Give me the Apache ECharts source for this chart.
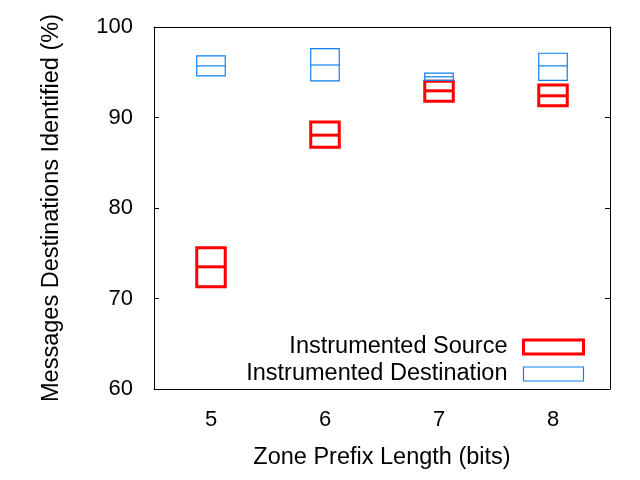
<!DOCTYPE html>
<html>
<head>
<meta charset="utf-8">
<script src="https://cdn.jsdelivr.net/npm/echarts@6/dist/echarts.min.js"></script>
<style>
  html, body { margin: 0; padding: 0; background: #fff; }
  #chart { width: 640px; height: 480px; }
</style>
</head>
<body>
<div id="chart"></div>
<script>
// zone prefix lengths (bits)
const categories = ['5', '6', '7', '8'];

// boxes as [low, median, high]
const sourceBoxes = [
  [71.3, 73.5, 75.6],
  [86.7, 88.05, 89.5],
  [91.8, 92.95, 94.0],
  [91.3, 92.4, 93.6]
];
const destBoxes = [
  [94.6, 95.7, 96.8],
  [94.05, 95.8, 97.6],
  [94.1, 94.5, 94.9],
  [94.1, 95.7, 97.1]
];

const yTicks = { min: 60, max: 100, interval: 10 };

const RED = '#ff0000';
const BLUE = '#0a80f0';
const FONT = 'Liberation Sans, Arial, sans-serif';

const chart = echarts.init(document.getElementById('chart'));

function boxRenderer(color, lineWidth) {
  return function (params, api) {
    const x = api.value(0);
    const lo = api.coord([x, api.value(1)]);
    const med = api.coord([x, api.value(2)]);
    const hi = api.coord([x, api.value(3)]);
    const w = api.size([1, 0])[0] * 0.25;
    const style = { stroke: color, lineWidth: lineWidth, fill: null };
    return {
      type: 'group',
      children: [
        {
          type: 'rect',
          shape: { x: lo[0] - w / 2, y: hi[1], width: w, height: lo[1] - hi[1] },
          style: style
        },
        {
          type: 'line',
          shape: { x1: med[0] - w / 2, y1: med[1], x2: med[0] + w / 2, y2: med[1] },
          style: style
        }
      ]
    };
  };
}

const axisLine = { show: true, lineStyle: { color: '#000', width: 1 } };

const option = {
  animation: false,
  textStyle: { fontFamily: FONT },
  grid: { left: 154, right: 30, top: 27, bottom: 91 },
  legend: {
    orient: 'vertical',
    right: 50,
    top: 330,
    align: 'right',
    itemWidth: 60,
    itemHeight: 14,
    itemGap: 3,
    textStyle: { fontSize: 23.5, lineHeight: 18, color: '#000', fontFamily: FONT, padding: [0, 11, 0, 0] },
    data: [
      { name: 'Instrumented Source', icon: 'rect',
        itemStyle: { color: 'transparent', borderColor: RED, borderWidth: 3 } },
      { name: 'Instrumented Destination', icon: 'rect',
        itemStyle: { color: 'transparent', borderColor: BLUE, borderWidth: 1.2 } }
    ]
  },
  xAxis: [
    {
      type: 'category',
      data: categories,
      boundaryGap: true,
      name: 'Zone Prefix Length (bits)',
      nameLocation: 'middle',
      nameGap: 57,
      nameTextStyle: { fontSize: 23.5, color: '#000' },
      axisLine: axisLine,
      axisTick: { inside: true, length: 5, alignWithLabel: true, lineStyle: { color: '#000' } },
      axisLabel: { fontSize: 22, color: '#000', margin: 20 },
      splitLine: { show: false }
    },
    {
      type: 'category',
      data: categories,
      position: 'top',
      boundaryGap: true,
      axisLine: axisLine,
      axisTick: { inside: true, length: 5, alignWithLabel: true, lineStyle: { color: '#000' } },
      axisLabel: { show: false },
      splitLine: { show: false }
    }
  ],
  yAxis: [
    {
      type: 'value',
      min: yTicks.min,
      max: yTicks.max,
      interval: yTicks.interval,
      name: 'Messages Destinations Identified (%)',
      nameLocation: 'middle',
      nameGap: 90,
      nameTextStyle: { fontSize: 23.5, color: '#000' },
      axisLine: axisLine,
      axisTick: { show: true, inside: true, length: 5, lineStyle: { color: '#000' } },
      axisLabel: { fontSize: 22, color: '#000', margin: 21 },
      splitLine: { show: false }
    },
    {
      type: 'value',
      position: 'right',
      min: yTicks.min,
      max: yTicks.max,
      interval: yTicks.interval,
      axisLine: axisLine,
      axisTick: { show: true, inside: true, length: 5, lineStyle: { color: '#000' } },
      axisLabel: { show: false },
      splitLine: { show: false }
    }
  ],
  series: [
    {
      name: 'Instrumented Source',
      type: 'custom',
      renderItem: boxRenderer(RED, 3),
      data: sourceBoxes.map((b, i) => [i, b[0], b[1], b[2]]),
      encode: { x: 0, y: [1, 2, 3] },
      itemStyle: { color: RED },
      z: 2
    },
    {
      name: 'Instrumented Destination',
      type: 'custom',
      renderItem: boxRenderer(BLUE, 1.2),
      data: destBoxes.map((b, i) => [i, b[0], b[1], b[2]]),
      encode: { x: 0, y: [1, 2, 3] },
      itemStyle: { color: BLUE },
      z: 3
    }
  ]
};

chart.setOption(option);
</script>
</body>
</html>
